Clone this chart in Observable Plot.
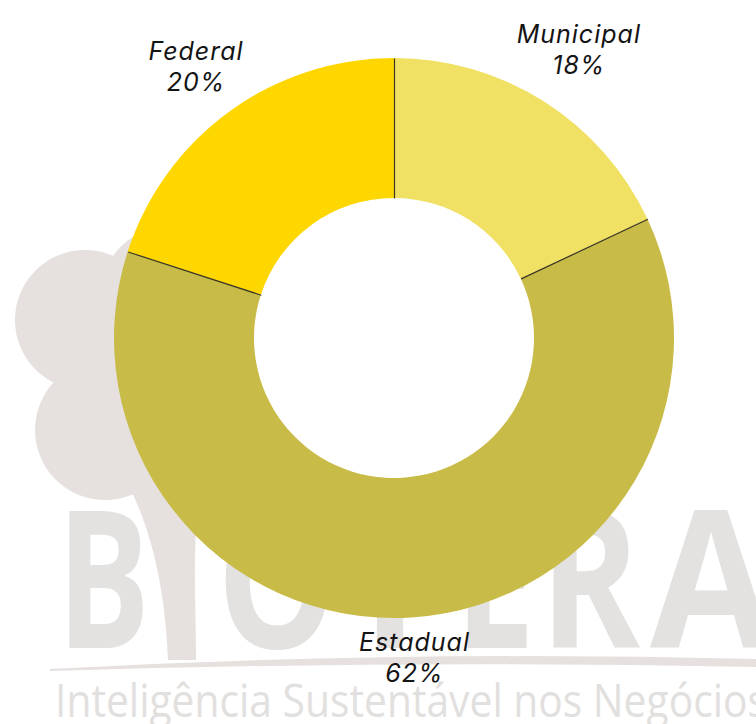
<!DOCTYPE html>
<html>
<head>
<meta charset="utf-8">
<script src="https://cdn.jsdelivr.net/npm/d3@7"></script>
<script src="https://cdn.jsdelivr.net/npm/@observablehq/plot@0.6"></script>
<style>
  html, body { margin: 0; padding: 0; background: #fff; }
  #wrap { position: relative; width: 756px; height: 724px; overflow: hidden; }
  #wm, #chart { position: absolute; left: 0; top: 0; }
  .donut text { letter-spacing: 1px; }
</style>
</head>
<body>
<div id="wrap">
  <svg id="wm" width="756" height="724" font-family="'Open Sans', sans-serif">
    <g fill="#E6E1DF">
      <circle cx="85" cy="320" r="70"></circle>
      <circle cx="105" cy="430" r="70"></circle>
      <circle cx="165" cy="290" r="62"></circle>
      <path d="M120,470 C150,520 165,585 168,660 L196,660 C196,590 190,530 205,470 Z"></path>
      <path d="M50,669 Q400,650 756,659 L756,667 Q400,660 50,671 Z"></path>
    </g>
    <g fill="#E3E2E0" font-weight="700" font-size="193">
      <text x="57" y="648" textLength="93" lengthAdjust="spacingAndGlyphs">B</text>
      <text x="217" y="648" textLength="120" lengthAdjust="spacingAndGlyphs">O</text>
      <text x="340" y="648" textLength="100" lengthAdjust="spacingAndGlyphs">T</text>
      <text x="455" y="648" textLength="80" lengthAdjust="spacingAndGlyphs">E</text>
      <text x="540" y="648" textLength="100" lengthAdjust="spacingAndGlyphs">R</text>
      <text x="650" y="648" textLength="122" lengthAdjust="spacingAndGlyphs">A</text>
    </g>
    <text x="55" y="717" font-size="45" fill="#E2E0DE" textLength="712" lengthAdjust="spacingAndGlyphs">Inteligência Sustentável nos Negócios</text>
  </svg>
  <div id="chart"></div>
</div>
<script>
// ---- data ----
const categories = ["Municipal", "Estadual", "Federal"];
const shares = [18, 62, 20];
const sliceColors = ["#F0E063", "#C9BB48", "#FED600"];

// ---- layout (pixels) ----
const W = 756, H = 724;
const CX = 394, CY = 338, R = 280;       // donut centre & outer radius in px
const INNER = 0.5;                        // inner radius as fraction of outer
const FONT = "Inter, 'Noto Sans', sans-serif";
const FS = 25;

const rows = categories.map((c, i) => ({name: c, share: shares[i], color: sliceColors[i]}));
const arcs = d3.pie().sort(null).value(d => d.share)(rows);

// measure label widths for outside placement
const ctx = document.createElement("canvas").getContext("2d");
ctx.font = `italic ${FS}px Inter`;
function textW(s) { return ctx.measureText(s).width + s.length * 1; }

const labelR0 = 287;   // px: where the label box touches
const labels = arcs.map(a => {
  const t = (a.startAngle + a.endAngle) / 2;
  const l1 = a.data.name, l2 = a.data.share + "%";
  const w = Math.max(textW(l1), textW(l2));
  const h = 56;
  const s = Math.sin(t), c = Math.cos(t);
  const dist = (labelR0 + Math.abs(s) * w / 2 + Math.abs(c) * h / 2) / R;
  return {text: l1 + "\n" + l2, x: dist * s, y: dist * c};
});

function donutMark(index, scales, values, dims) {
  let x0, y0, rr;
  if (scales && typeof scales.x === "function") {
    x0 = scales.x(0); y0 = scales.y(0);
    rr = Math.abs(scales.x(1) - scales.x(0));
  } else {
    x0 = CX; y0 = CY; rr = R;
  }
  const arc = d3.arc().innerRadius(rr * INNER).outerRadius(rr);
  const g = d3.create("svg:g").attr("transform", `translate(${x0},${y0})`);
  g.selectAll("path").data(arcs).join("path")
    .attr("d", arc)
    .attr("fill", d => d.data.color);
  return g.node();
}

const plot = Plot.plot({
  width: W,
  height: H,
  margin: 0,
  className: "donut",
  style: {background: "transparent", fontFamily: FONT},
  x: {domain: [-CX / R, (W - CX) / R], axis: null},
  y: {domain: [-(H - CY) / R, CY / R], axis: null},
  marks: [
    donutMark,
    Plot.link(arcs, {
      x1: d => INNER * Math.sin(d.startAngle),
      y1: d => INNER * Math.cos(d.startAngle),
      x2: d => Math.sin(d.startAngle),
      y2: d => Math.cos(d.startAngle),
      stroke: "#3b3822",
      strokeWidth: 1.2
    }),
    Plot.text(labels, {
      x: "x", y: "y", text: "text",
      fontSize: FS, fontStyle: "italic", fontFamily: FONT,
      lineHeight: 1.24, fill: "#141414", textAnchor: "middle"
    })
  ]
});
document.getElementById("chart").appendChild(plot);
</script>
</body>
</html>
